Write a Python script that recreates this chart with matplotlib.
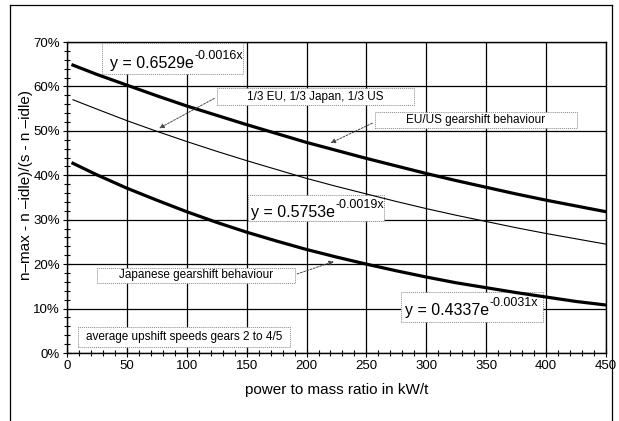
import matplotlib.pyplot as plt
from matplotlib.patches import Rectangle
from matplotlib.lines import Line2D
from matplotlib.ticker import MultipleLocator, PercentFormatter

plt.rcParams['font.family'] = ['Liberation Sans', 'DejaVu Sans']

# --- dati (valori in %) ---
ratio = [5, 25, 50, 75, 100, 125, 150, 175, 200, 225, 250, 275, 300,
         325, 350, 375, 400, 425, 450]
eu_us = [64.8, 62.7, 60.3, 57.9, 55.6, 53.5, 51.4, 49.4, 47.4, 45.6, 43.8,
         42.1, 40.4, 38.8, 37.3, 35.8, 34.4, 33.1, 31.8]
mixed = [57.0, 54.9, 52.3, 49.9, 47.6, 45.4, 43.3, 41.3, 39.3, 37.5, 35.8,
         34.1, 32.5, 31.0, 29.6, 28.2, 26.9, 25.7, 24.5]
japan = [42.7, 40.1, 37.1, 34.4, 31.8, 29.4, 27.2, 25.2, 23.3, 21.6, 20.0,
         18.5, 17.1, 15.8, 14.7, 13.6, 12.6, 11.6, 10.8]

eq_base = ['y = 0.6529e', 'y = 0.5753e', 'y = 0.4337e']
eq_exp = ['-0.0016x', '-0.0019x', '-0.0031x']

fig = plt.figure(figsize=(6.19, 4.21), dpi=100)
ax = fig.add_axes([0.1082, 0.1615, 0.8708, 0.7387])

ax.plot(ratio, eu_us, color='black', lw=2.3, zorder=5)
ax.plot(ratio, mixed, color='black', lw=0.8, zorder=5)
ax.plot(ratio, japan, color='black', lw=2.3, zorder=5)

ax.set_xlim(0, 450)
ax.set_ylim(0, 70)
ax.xaxis.set_major_locator(MultipleLocator(50))
ax.xaxis.set_minor_locator(MultipleLocator(10))
ax.yaxis.set_major_locator(MultipleLocator(10))
ax.yaxis.set_minor_locator(MultipleLocator(2))
ax.yaxis.set_major_formatter(PercentFormatter(decimals=0))
ax.tick_params(which='major', direction='inout', length=6, width=0.8,
               labelsize=9.5, pad=2)
ax.tick_params(which='minor', direction='inout', length=4, width=0.8)
ax.grid(True, which='major', color='black', lw=0.9)
ax.set_axisbelow(True)
for s in ax.spines.values():
    s.set_linewidth(1.0)

ax.set_xlabel('power to mass ratio in kW/t', fontsize=11, labelpad=8)
ax.set_ylabel('n\u2013max - n \u2013idle)/(s - n \u2013idle)', fontsize=11)
ax.yaxis.set_label_coords(-0.063, 0.54)

# riquadri con bordo tratteggiato
def box(x0, x1, y0, y1):
    r = Rectangle((x0, y0), x1 - x0, y1 - y0, facecolor='white',
                  edgecolor='#888888', lw=0.7, ls=(0, (1, 1)), zorder=3)
    ax.add_patch(r)

def label(x0, x1, y0, y1, txt):
    box(x0, x1, y0, y1)
    ax.text((x0 + x1) / 2, (y0 + y1) / 2, txt, fontsize=8.5, ha='center',
            va='center', zorder=4)

def equation(x0, x1, y0, y1, tx, ty, base, expo):
    box(x0, x1, y0, y1)
    t = ax.text(tx, ty, base, fontsize=11.5, ha='left', va='baseline',
                zorder=4)
    ax.annotate(expo, xy=(1, 1), xycoords=t, xytext=(0.3, -4.5),
                textcoords='offset points', fontsize=9, ha='left',
                va='bottom', zorder=4)

equation(29, 147, 62.8, 69.8, 36, 64.1, eq_base[0], eq_exp[0])
equation(151, 265, 29.7, 35.6, 153.3, 30.7, eq_base[1], eq_exp[1])
equation(279, 397, 7.0, 13.7, 282.2, 8.55, eq_base[2], eq_exp[2])

label(125, 290, 55.8, 59.6, '1/3 EU, 1/3 Japan, 1/3 US')
label(257, 426, 50.6, 54.2, 'EU/US gearshift behaviour')
label(25, 190, 15.8, 19.1, 'Japanese gearshift behaviour')
label(9, 186, 1.4, 5.9, 'average upshift speeds gears 2 to 4/5')

arrow = dict(arrowstyle='-|>', color='#444444', lw=0.7, ls=(0, (2, 1.5)),
             mutation_scale=7)
ax.annotate('', xy=(75, 50.3), xytext=(125, 57.6), arrowprops=arrow, zorder=6)
ax.annotate('', xy=(218, 47.0), xytext=(257, 52.0), arrowprops=arrow, zorder=6)
ax.annotate('', xy=(225, 20.8), xytext=(190, 17.6), arrowprops=arrow, zorder=6)

# cornice esterna
for xs, ys in [([0.016, 0.016], [0.0, 0.988]), ([0.016, 0.989], [0.988, 0.988]),
               ([0.989, 0.989], [0.0, 0.988])]:
    fig.add_artist(Line2D(xs, ys, color='black', lw=0.9))

fig.savefig('out.png', dpi=100)
